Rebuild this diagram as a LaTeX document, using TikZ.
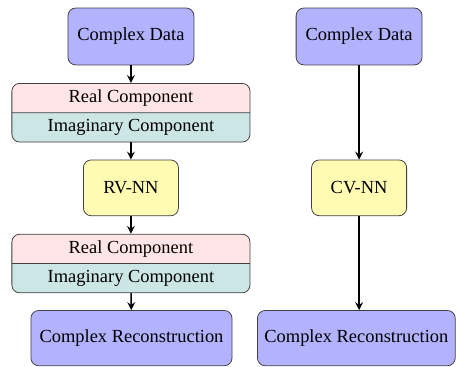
\documentclass[tikz,border=0pt]{standalone}
\usepackage{fontspec}
\setmainfont{Liberation Serif}
\usetikzlibrary{shapes.multipart}

\tikzset{
	every node/.style={font=\fontsize{9.5}{11.4}\selectfont},
	databox/.style={draw=black!75, rectangle, rounded corners=4pt, fill=blue!30, minimum width=2.28cm, minimum height=1.03cm},
	netbox/.style={draw=black!75, rectangle, rounded corners=4pt, fill=yellow!30, minimum width=1.72cm, minimum height=1.01cm},
	splitbox/.style={draw=black!75, rectangle split, rectangle split parts=2, rounded corners=4pt, rectangle split part fill={red!10, teal!20}, minimum width=4.31cm, inner ysep=1.65pt},
	flow/.style={->, >=stealth, thick}
}

\begin{document}
\begin{tikzpicture}
				\useasboundingbox (0,0) rectangle (8.254,-6.625);
				% real-valued pipeline
				\node[databox] (DL)at(2.37, -0.66) {Complex Data};
				\node[splitbox] (SA)at(2.37, -2.04) {\strut Real Component \nodepart{two}\strut Imaginary Component};
				\node[netbox] (RV)at(2.37, -3.40) {RV-NN};
				\node[splitbox] (SB)at(2.37, -4.77) {\strut Real Component \nodepart{two}\strut Imaginary Component};
				\node[databox, minimum width=3.64cm, minimum height=1.0cm] (RL)at(2.38, -6.12) {Complex Reconstruction};
				% complex-valued pipeline
				\node[databox] (DR)at(6.50, -0.66) {Complex Data};
				\node[netbox] (CV)at(6.50, -3.40) {CV-NN};
				\node[databox, minimum width=3.58cm, minimum height=1.0cm] (RR)at(6.45, -6.12) {Complex Reconstruction};
				\draw[flow] (DL) -- (SA);
				\draw[flow] (SA) -- (RV);
				\draw[flow] (RV) -- (SB);
				\draw[flow] (SB) -- (RL);
				\draw[flow] (DR) -- (CV);
				\draw[flow] (CV) -- (CV |- RR.north);
			\end{tikzpicture}
\end{document}
